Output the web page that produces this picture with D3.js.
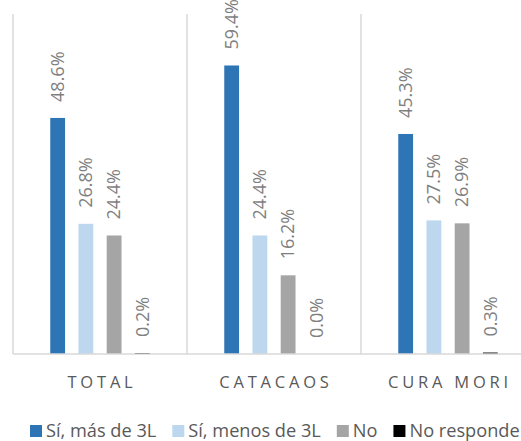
<!DOCTYPE html>
<html>
<head>
<meta charset="utf-8">
<script src="https://cdn.jsdelivr.net/npm/d3@7"></script>
<style>
  body { margin: 0; background: #fff; }
  svg { display: block; font-family: "Open Sans", sans-serif; }
</style>
</head>
<body>
<div id="chart"></div>
<script>
const categories = ["TOTAL", "CATACAOS", "CURA MORI"];
const seriesNames = ["Sí, más de 3L", "Sí, menos de 3L", "No", "No responde"];
const values = [
  [48.6, 26.8, 24.4, 0.2],
  [59.4, 24.4, 16.2, 0.0],
  [45.3, 27.5, 26.9, 0.3]
];
const colors = ["#2E75B6", "#BDD7EE", "#A5A5A5", "#000000"];

const width = 521, height = 441;
const plot = { left: 13, top: 14, bottom: 354, groupWidth: 174 };

const svg = d3.select("#chart").append("svg")
  .attr("width", width)
  .attr("height", height);

const x0 = d3.scaleBand()
  .domain(categories)
  .range([plot.left, plot.left + plot.groupWidth * categories.length]);

const x1 = d3.scaleBand()
  .domain(seriesNames)
  .range([0, x0.bandwidth()])
  .paddingInner(0.475)
  .paddingOuter(1.32);

const y = d3.scaleLinear().domain([0, 70]).range([plot.bottom, plot.top]);

// group separators
svg.append("g").selectAll("line")
  .data(categories)
  .join("line")
    .attr("x1", d => x0(d)).attr("x2", d => x0(d))
    .attr("y1", y(70)).attr("y2", plot.bottom)
    .attr("stroke", "#D9D9D9").attr("stroke-width", 1.5);

const group = svg.append("g").selectAll("g")
  .data(categories)
  .join("g")
    .attr("transform", d => `translate(${x0(d)},0)`);

group.selectAll("rect")
  .data((d, i) => values[i].map((v, j) => ({ key: seriesNames[j], v, j })))
  .join("rect")
    .attr("x", d => x1(d.key))
    .attr("width", x1.bandwidth())
    .attr("y", d => y(d.v))
    .attr("height", d => y(0) - y(d.v))
    .attr("fill", d => colors[d.j]);

group.selectAll("text")
  .data((d, i) => values[i].map((v, j) => ({ key: seriesNames[j], v, j })))
  .join("text")
    .attr("transform", d => `translate(${x1(d.key) + x1.bandwidth() / 2},${y(d.v) - 16}) rotate(-90)`)
    .attr("dy", "0.35em")
    .attr("fill", "#7F7F7F")
    .style("font-size", "18px")
    .text(d => d.v.toFixed(1) + "%");

// baseline
svg.append("line")
  .attr("x1", plot.left).attr("x2", width)
  .attr("y1", plot.bottom).attr("y2", plot.bottom)
  .attr("stroke", "#D9D9D9").attr("stroke-width", 1.5);

// category labels
svg.append("g").selectAll("text")
  .data(categories)
  .join("text")
    .attr("x", d => x0(d) + x0.bandwidth() / 2 + 2)
    .attr("y", 382)
    .attr("dy", "0.35em")
    .attr("text-anchor", "middle")
    .attr("fill", "#595959")
    .style("font-size", "16.5px")
    .style("letter-spacing", "3.8px")
    .text(d => d);

// legend
const legend = svg.append("g").attr("transform", "translate(30,431)");
let lx = 0;
seriesNames.forEach((name, i) => {
  const item = legend.append("g").attr("transform", `translate(${lx},0)`);
  item.append("rect")
    .attr("x", 0).attr("y", -6)
    .attr("width", 12).attr("height", 12)
    .attr("fill", colors[i]);
  const t = item.append("text")
    .attr("x", 16)
    .attr("dy", "0.35em")
    .attr("fill", "#595959")
    .style("font-size", "18.2px")
    .text(name);
  lx += 16 + t.node().getComputedTextLength() + 16;
});
</script>
</body>
</html>
